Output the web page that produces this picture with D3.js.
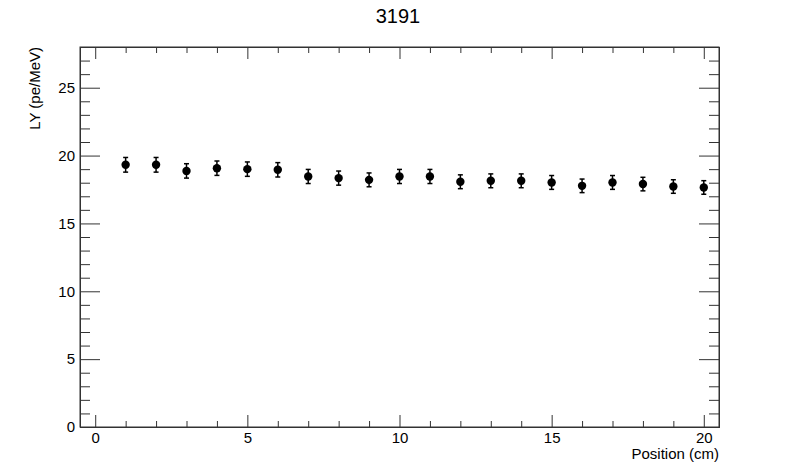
<!DOCTYPE html>
<html>
<head>
  <meta charset="utf-8">
  <style>
    body { margin: 0; background: #fff; }
    svg { display: block; }
    text { font-family: "Liberation Sans", Arial, Helvetica, sans-serif; fill: #000; }
    .axis path, .axis line { stroke: #333; stroke-width: 1; }
  </style>
</head>
<body>
  <div id="chart"></div>
  <script src="https://d3js.org/d3.v7.min.js"></script>
  <script>
    // values
    var title = "3191";
    var positions = [1, 2, 3, 4, 5, 6, 7, 8, 9, 10, 11, 12, 13, 14, 15, 16, 17, 18, 19, 20];
    var ly = [19.32, 19.32, 18.87, 19.07, 19.0, 18.95, 18.46, 18.34, 18.21, 18.46,
              18.46, 18.07, 18.14, 18.14, 18.02, 17.77, 18.02, 17.9, 17.72, 17.65];
    var lyErr = [0.54, 0.54, 0.53, 0.53, 0.53, 0.53, 0.52, 0.52, 0.51, 0.52,
                 0.52, 0.51, 0.51, 0.51, 0.51, 0.5, 0.51, 0.5, 0.5, 0.5];
    var xMajor = [0, 5, 10, 15, 20];
    var yMajor = [0, 5, 10, 15, 20, 25];

    var W = 800, H = 475;
    var margin = {top: 47, right: 81, bottom: 48, left: 80};
    var width = W - margin.left - margin.right,
        height = H - margin.top - margin.bottom;

    var svg = d3.select("#chart").append("svg")
        .attr("width", W)
        .attr("height", H);

    var g = svg.append("g")
        .attr("transform", "translate(" + margin.left + "," + margin.top + ")");

    var x = d3.scaleLinear().domain([-0.5, 20.5]).range([0, width]);
    var y = d3.scaleLinear().domain([0, 28]).range([height, 0]);

    var xMinor = d3.range(0, 21, 1).filter(d => xMajor.indexOf(d) < 0);
    var yMinor = d3.range(0, 28, 1).filter(d => yMajor.indexOf(d) < 0);

    // minor ticks, all four sides, pointing inward
    g.append("g").attr("class", "axis")
        .attr("transform", "translate(0," + height + ")")
        .call(d3.axisBottom(x).tickValues(xMinor).tickSize(-6).tickFormat(""));
    g.append("g").attr("class", "axis")
        .call(d3.axisTop(x).tickValues(xMinor).tickSize(-6).tickFormat(""));
    g.append("g").attr("class", "axis")
        .call(d3.axisLeft(y).tickValues(yMinor).tickSize(-10).tickFormat(""));
    g.append("g").attr("class", "axis")
        .attr("transform", "translate(" + width + ",0)")
        .call(d3.axisRight(y).tickValues(yMinor).tickSize(-10).tickFormat(""));

    // major ticks
    g.append("g").attr("class", "axis")
        .attr("transform", "translate(0," + height + ")")
        .call(d3.axisBottom(x).tickValues(xMajor).tickSize(-12).tickPadding(5).tickSizeOuter(0));
    g.append("g").attr("class", "axis")
        .call(d3.axisTop(x).tickValues(xMajor).tickSize(-12).tickFormat("").tickSizeOuter(0));
    g.append("g").attr("class", "axis")
        .call(d3.axisLeft(y).tickValues(yMajor).tickSize(-20).tickPadding(5).tickSizeOuter(0));
    g.append("g").attr("class", "axis")
        .attr("transform", "translate(" + width + ",0)")
        .call(d3.axisRight(y).tickValues(yMajor).tickSize(-20).tickFormat("").tickSizeOuter(0));

    g.selectAll(".axis text").style("font-size", "15px");

    // frame
    g.append("rect")
        .attr("width", width)
        .attr("height", height)
        .attr("fill", "none")
        .attr("stroke", "#333");

    // error bars
    var pts = positions.map((p, i) => ({x: p, y: ly[i], e: lyErr[i]}));

    var bars = g.append("g").attr("stroke", "#000").attr("stroke-width", 1.5);
    bars.selectAll("line.err")
        .data(pts).enter().append("line")
        .attr("class", "err")
        .attr("x1", d => x(d.x)).attr("x2", d => x(d.x))
        .attr("y1", d => y(d.y - d.e)).attr("y2", d => y(d.y + d.e));
    bars.selectAll("line.capt")
        .data(pts).enter().append("line")
        .attr("class", "capt")
        .attr("x1", d => x(d.x) - 2.5).attr("x2", d => x(d.x) + 2.5)
        .attr("y1", d => y(d.y + d.e)).attr("y2", d => y(d.y + d.e));
    bars.selectAll("line.capb")
        .data(pts).enter().append("line")
        .attr("class", "capb")
        .attr("x1", d => x(d.x) - 2.5).attr("x2", d => x(d.x) + 2.5)
        .attr("y1", d => y(d.y - d.e)).attr("y2", d => y(d.y - d.e));

    // markers
    g.append("g").selectAll("circle")
        .data(pts).enter().append("circle")
        .attr("cx", d => x(d.x))
        .attr("cy", d => y(d.y))
        .attr("r", 4.2)
        .attr("fill", "#000");

    // title and axis titles
    svg.append("text")
        .attr("x", 398)
        .attr("y", 23)
        .attr("text-anchor", "middle")
        .style("font-size", "20px")
        .text(title);

    svg.append("text")
        .attr("x", margin.left + width)
        .attr("y", 459)
        .attr("text-anchor", "end")
        .style("font-size", "15px")
        .text("Position (cm)");

    svg.append("text")
        .attr("transform", "translate(40," + margin.top + ") rotate(-90)")
        .attr("text-anchor", "end")
        .style("font-size", "15px")
        .text("LY (pe/MeV)");
  </script>
</body>
</html>
